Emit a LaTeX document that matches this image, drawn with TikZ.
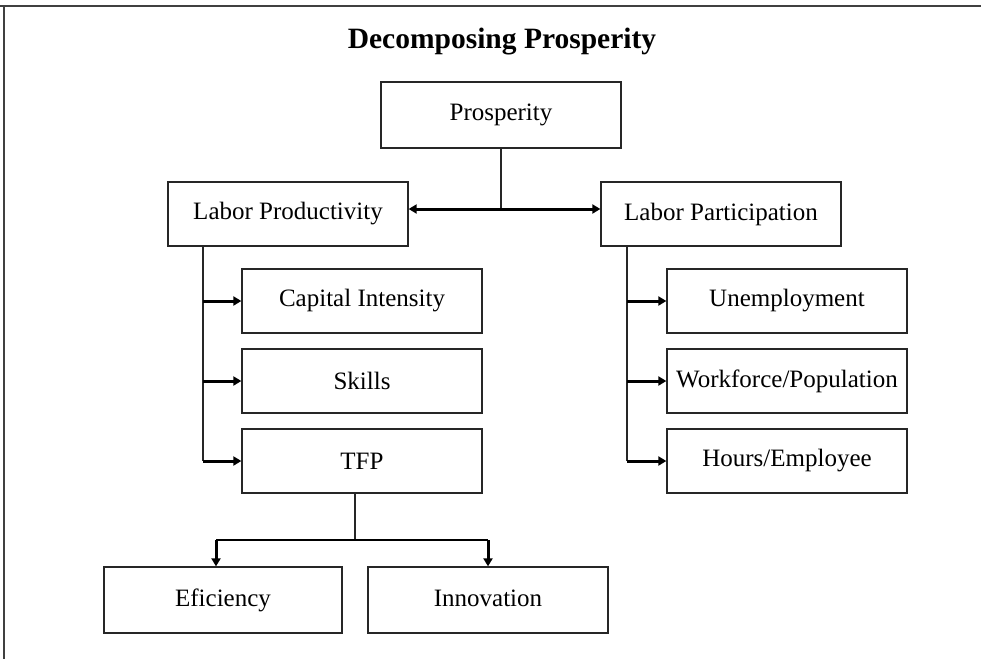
\documentclass[tikz,border=0pt]{standalone}
\usepackage{fontspec}
\setmainfont{Liberation Serif}
\usetikzlibrary{arrows.meta}
\begin{document}
\begin{tikzpicture}[x=1pt,y=-1pt,
  box/.style={draw=black!85,line width=1.3pt,rectangle,inner sep=0pt,minimum width=240pt,minimum height=64pt,font=\fontsize{25}{29}\selectfont},
  link/.style={line width=1.3pt,draw=black!85},
  arr/.style={line width=3pt,-{Triangle[length=8pt,width=9pt]}},
  darr/.style={line width=3pt,{Triangle[length=8pt,width=9pt]}-{Triangle[length=8pt,width=9pt]}}]
\useasboundingbox (0,0) rectangle (981,659);
\fill[white] (0,0) rectangle (981,659);
\draw[line width=1.6pt,black!75] (0,6) -- (981,6);
\draw[line width=1.6pt,black!75] (4,6) -- (4,659);
\node[font=\bfseries\fontsize{29.5}{34}\selectfont] (title) at (502,42) {Decomposing Prosperity};
\node[box,minimum height=66pt] (P) at (501,115) {\raisebox{2pt}{Prosperity}};
\node[box] (LP) at (288,214) {\raisebox{-1pt}{Labor Productivity}};
\node[box] (LA) at (721,214) {Labor Participation};
\node[box] (CI) at (362,301) {Capital Intensity};
\node[box] (SK) at (362,381) {Skills};
\node[box] (TFP) at (362,461) {TFP};
\node[box] (UN) at (787,301) {Unemployment};
\node[box] (WP) at (787,381) {Workforce/Population};
\node[box] (HE) at (787,461) {Hours/Employee};
\node[box,minimum width=238pt,minimum height=66pt] (EF) at (223,600) {Eficiency};
\node[box,minimum width=240pt,minimum height=66pt] (IN) at (488,600) {\raisebox{3pt}{Innovation}};
% Prosperity split
\coordinate (j) at (501,209);
\draw[link] (P.south) -- (j);
\draw[darr] (LP.east |- j) -- (LA.west |- j);
% left column
\coordinate (lt) at (203,246);
\coordinate (lb) at (203,461);
\draw[link] (lt) -- (lb);
\draw[arr] (lt |- CI.west) -- (CI.west);
\draw[arr] (lt |- SK.west) -- (SK.west);
\draw[arr] (lb) -- (TFP.west);
% right column
\coordinate (rt) at (627,246);
\coordinate (rb) at (627,461);
\draw[link] (rt) -- (rb);
\draw[arr] (rt |- UN.west) -- (UN.west);
\draw[arr] (rt |- WP.west) -- (WP.west);
\draw[arr] (rb) -- (HE.west);
% TFP split
\coordinate (tj) at (355,540);
\coordinate (tl) at (216,540);
\coordinate (tr) at (488,540);
\draw[link] (TFP.south -| tj) -- (tj);
\draw[line width=2.4pt] (tl) -- (tr);
\draw[arr] (tl) -- (tl |- EF.north);
\draw[arr] (tr) -- (tr |- IN.north);
\end{tikzpicture}
\end{document}
